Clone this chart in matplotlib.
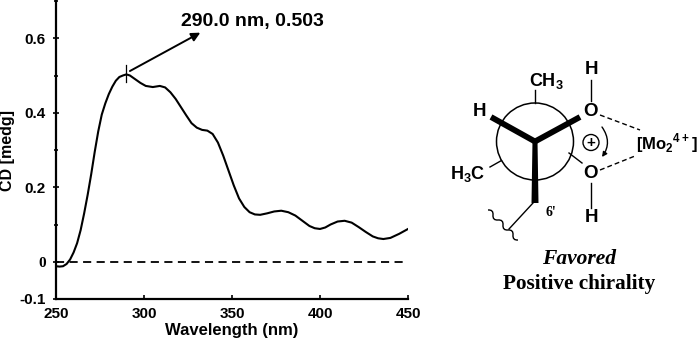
import matplotlib
matplotlib.use('Agg')
import matplotlib.pyplot as plt
from matplotlib.patches import Circle, PathPatch
from matplotlib.path import Path

plt.rcParams['mathtext.fontset'] = 'custom'
plt.rcParams['mathtext.rm'] = 'Liberation Sans:bold'
plt.rcParams['mathtext.bf'] = 'Liberation Sans:bold'

wavelength = [250, 252, 254, 256, 258, 260, 262, 264, 266, 268, 270, 272, 274, 276, 278, 280, 282, 284, 286, 288,
              290, 292, 295, 298, 301, 305, 309, 312, 315, 318, 321, 324, 327, 330, 333, 336, 339, 342, 345, 348,
              351, 354, 357, 360, 363, 366, 370, 374, 378, 382, 386, 390, 394, 397, 400, 403, 406, 410, 414, 418,
              422, 426, 430, 433, 436, 440, 445, 450]
cd = [-0.012, -0.013, -0.012, -0.006, 0.006, 0.025, 0.05, 0.085, 0.13, 0.18, 0.235, 0.295, 0.35, 0.395, 0.425, 0.45,
      0.47, 0.486, 0.496, 0.5, 0.503, 0.5, 0.49, 0.48, 0.472, 0.469, 0.472, 0.468, 0.455, 0.437, 0.415, 0.393, 0.372,
      0.36, 0.354, 0.352, 0.343, 0.32, 0.285, 0.245, 0.205, 0.17, 0.147, 0.133, 0.127, 0.126, 0.13, 0.135, 0.137, 0.133,
      0.124, 0.11, 0.096, 0.09, 0.088, 0.092, 0.1, 0.108, 0.11, 0.105, 0.093, 0.08, 0.068, 0.063, 0.061, 0.064, 0.075, 0.088]

x_ticks = [250, 300, 350, 400, 450]
y_ticks = [-0.1, 0, 0.2, 0.4, 0.6]
y_tick_labels = ['-0.1', '0', '0.2', '0.4', '0.6']
y_minor = [0.1, 0.3, 0.5, 0.7]

sans = 'Liberation Sans'
serif = 'Liberation Serif'

fig = plt.figure(figsize=(7, 3.38), dpi=100)

# wykres CD
ax = fig.add_axes([56 / 700, 1 - 299 / 338, 352 / 700, 298 / 338])
ax.plot(wavelength, cd, color='black', lw=1.5)
ax.axhline(0, color='black', lw=1.3, dashes=(4.5, 3))
ax.plot([290, 290], [0.483, 0.527], color='black', lw=0.9)
ax.annotate('', xy=(332, 0.615), xytext=(292, 0.512),
            arrowprops=dict(arrowstyle='-|>', color='black', lw=1.4, mutation_scale=13, shrinkA=0, shrinkB=0))
ax.text(321, 0.645, '290.0 nm, 0.503', fontsize=14, fontweight='bold', family=sans, va='center')
ax.set_xlim(250, 450)
ax.set_ylim(-0.1, 0.7)
ax.spines['top'].set_visible(False)
ax.spines['right'].set_visible(False)
ax.spines['left'].set_linewidth(1.6)
ax.spines['bottom'].set_linewidth(1.6)
ax.set_xticks(x_ticks)
ax.set_yticks(y_ticks)
ax.set_yticklabels(y_tick_labels)
ax.set_yticks(y_minor, minor=True)
ax.tick_params(axis='x', direction='in', length=3, width=1.2, pad=6)
ax.tick_params(axis='y', direction='inout', length=5, width=1.2, pad=5)
ax.tick_params(axis='y', which='minor', direction='inout', length=3, width=1.2)
for t in ax.get_xticklabels() + ax.get_yticklabels():
    t.set_fontsize(11)
    t.set_fontweight('bold')
    t.set_family(sans)
ax.get_yticklabels()[1].set_family(serif)
ax.set_xlabel('Wavelength (nm)', fontsize=12, fontweight='bold', family=sans, labelpad=1)
ax.set_ylabel('CD [medg]', fontsize=11.5, fontweight='bold', family=sans)
ax.yaxis.set_label_coords(-0.116, 0.497)
ax.patch.set_alpha(0)

# projekcja Newmana, wspolrzedne w pikselach
d = fig.add_axes([0, 0, 1, 1], zorder=3)
d.set_xlim(0, 700)
d.set_ylim(338, 0)
d.axis('off')

d.add_patch(Circle((535, 141.5), 38.5, fc='none', ec='black', lw=1.1))
for end in [(491, 117), (580, 117)]:
    d.plot([535, end[0]], [141.5, end[1]], color='black', lw=4.2, solid_capstyle='butt')
d.fill([532.5, 537.5, 538.5, 531.5], [141, 141, 203, 203], color='black', lw=0)

thin = [[(535, 103), (535, 90)], [(501.5, 160.5), (490, 167)], [(569, 153), (582, 163)],
        [(591, 80), (591, 101)], [(591, 183), (591, 208)], [(533, 203), (509, 229)]]
for seg in thin:
    d.plot([seg[0][0], seg[1][0]], [seg[0][1], seg[1][1]], color='black', lw=1.0)
dashed = [[(600, 115), (640, 130)], [(600, 170), (635, 156)]]
for seg in dashed:
    d.plot([seg[0][0], seg[1][0]], [seg[0][1], seg[1][1]], color='black', lw=1.0, dashes=(3.5, 2.2))

# linia falista
wavy = [(488, 210), (493.5, 209.5), (493, 215), (492.5, 220.5), (498, 220), (503.5, 219.5), (503, 225),
        (502.5, 230.5), (508, 230), (513.5, 229.5), (513, 235), (512.5, 240.5), (518, 240)]
codes = [Path.MOVETO] + [Path.CURVE3] * (len(wavy) - 1)
d.add_patch(PathPatch(Path(wavy, codes), fc='none', ec='black', lw=1.0))

# strzalka wokol plusa
arc = [(602, 127), (610, 142), (602, 157)]
d.annotate('', xy=arc[2], xytext=arc[0],
           arrowprops=dict(arrowstyle='-|>', color='black', lw=1.0, mutation_scale=7, shrinkA=0, shrinkB=0,
                           connectionstyle='arc3,rad=-0.35'))
d.add_patch(Circle((591, 142.5), 8, fc='none', ec='black', lw=1.0))
d.text(591, 142.5, '+', fontsize=11, fontweight='bold', family=sans, ha='center', va='center')

labels = [(479, 111, 'H'), (591, 69, 'H'), (591, 111, 'O'), (591, 173, 'O'), (591, 218, 'H')]
for x, y, s in labels:
    d.text(x, y, s, fontsize=13.5, fontweight='bold', family=sans, ha='center', va='center')
d.text(546, 81, 'CH$_{3}$', fontsize=13, family=sans, fontweight='bold', ha='center', va='center')
d.text(468, 174, 'H$_{3}$C', fontsize=13, family=sans, fontweight='bold', ha='center', va='center')
d.text(698, 143, '[Mo$_{2}$$^{4+}$]', fontsize=12, family=sans, fontweight='bold', ha='right', va='center')
d.text(551, 212, "6'", fontsize=10, fontweight='bold', family=serif, ha='center', va='center')
d.text(579, 259, 'Favored', fontsize=15.5, fontweight='bold', style='italic', family=serif, ha='center', va='center')
d.text(579, 284, 'Positive chirality', fontsize=15.3, fontweight='bold', family=serif, ha='center', va='center')

fig.savefig('out.png', dpi=100)
